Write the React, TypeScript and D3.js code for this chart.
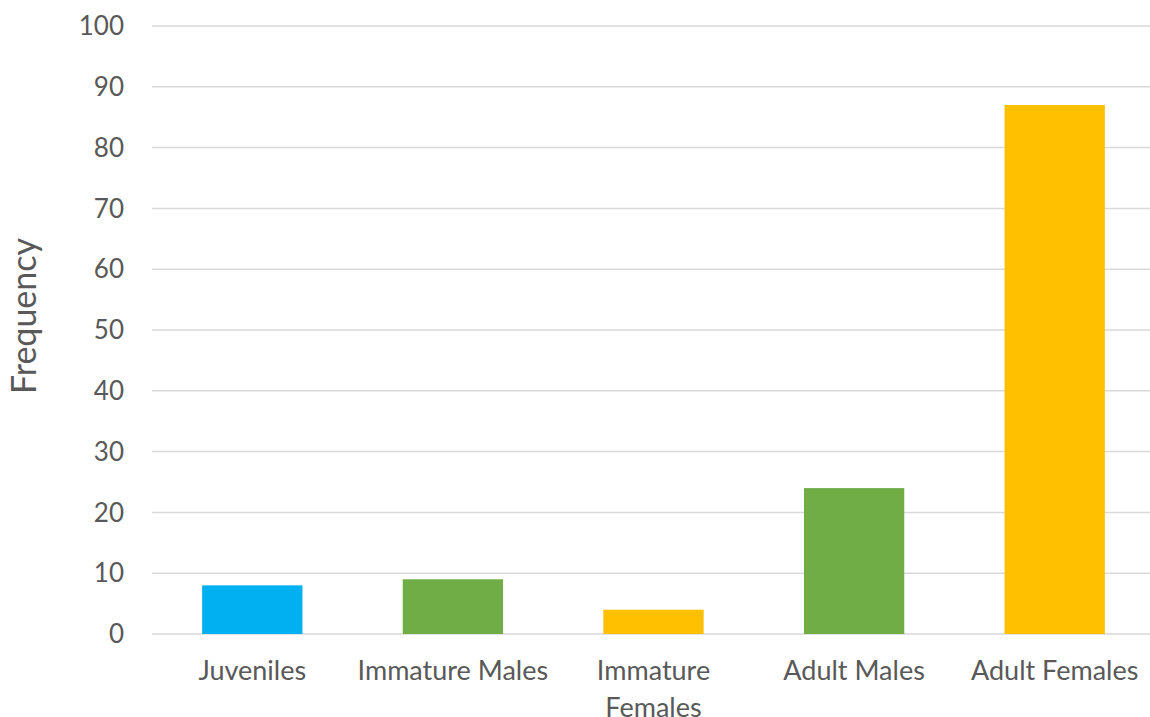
import React, { useEffect, useRef } from "react";
import * as d3 from "d3";

const categories = ["Juveniles", "Immature Males", "Immature Females", "Adult Males", "Adult Females"];
const frequencies = [8, 9, 4, 24, 87];
const barColors = ["#00B0F0", "#70AD47", "#FFC000", "#70AD47", "#FFC000"];
const yTicks = [0, 10, 20, 30, 40, 50, 60, 70, 80, 90, 100];

const WIDTH = 1150;
const HEIGHT = 717;
const FONT = "Lato, 'Open Sans', sans-serif";

export default function App() {
  const ref = useRef<SVGSVGElement>(null);

  useEffect(() => {
    const svg = d3.select(ref.current);
    svg.selectAll("*").remove();

    const left = 152;
    const right = 1155;
    const top = 26;
    const bottom = 634;

    const x = d3.scaleBand<string>().domain(categories).range([left, right]).paddingInner(0.5).paddingOuter(0.25);
    const y = d3.scaleLinear().domain([0, 100]).range([bottom, top]);

    // gridlines
    svg.append("g")
      .selectAll("line")
      .data(yTicks)
      .join("line")
      .attr("x1", left)
      .attr("x2", WIDTH)
      .attr("y1", (d) => y(d))
      .attr("y2", (d) => y(d))
      .attr("stroke", "#d9d9d9")
      .attr("stroke-width", 1.5);

    // y tick labels
    svg.append("g")
      .selectAll("text")
      .data(yTicks)
      .join("text")
      .attr("x", 124)
      .attr("y", (d) => y(d))
      .attr("dy", "0.35em")
      .attr("text-anchor", "end")
      .attr("font-family", FONT)
      .attr("font-size", 26)
      .attr("fill", "#595959")
      .text((d) => d);

    // bars
    svg.append("g")
      .selectAll("rect")
      .data(categories)
      .join("rect")
      .attr("x", (d) => x(d)!)
      .attr("width", x.bandwidth())
      .attr("y", (_, i) => y(frequencies[i]))
      .attr("height", (_, i) => bottom - y(frequencies[i]))
      .attr("fill", (_, i) => barColors[i]);

    // category labels, wrapped to the band step
    const labels = svg.append("g")
      .selectAll("text")
      .data(categories)
      .join("text")
      .attr("x", (d) => x(d)! + x.bandwidth() / 2)
      .attr("y", 680)
      .attr("text-anchor", "middle")
      .attr("font-family", FONT)
      .attr("font-size", 27)
      .attr("fill", "#595959");

    labels.each(function (d) {
      const text = d3.select(this);
      const words = d.split(" ");
      const maxW = x.step();
      const cx = x(d)! + x.bandwidth() / 2;
      let line: string[] = [];
      let tspan = text.append("tspan").attr("x", cx).attr("dy", 0);
      for (const w of words) {
        line.push(w);
        tspan.text(line.join(" "));
        const node = tspan.node() as SVGTSpanElement;
        if (node.getComputedTextLength() > maxW * 0.98 && line.length > 1) {
          line.pop();
          tspan.text(line.join(" "));
          line = [w];
          tspan = text.append("tspan").attr("x", cx).attr("dy", 37).text(w);
        }
      }
    });

    // y axis title
    svg.append("text")
      .attr("transform", `translate(36, 316) rotate(-90)`)
      .attr("text-anchor", "middle")
      .attr("font-family", FONT)
      .attr("font-size", 34)
      .attr("fill", "#595959")
      .text("Frequency");
  }, []);

  return (
    <svg
      ref={ref}
      width={WIDTH}
      height={HEIGHT}
      style={{ position: "absolute", left: 0, top: 0, background: "#fff" }}
    />
  );
}
